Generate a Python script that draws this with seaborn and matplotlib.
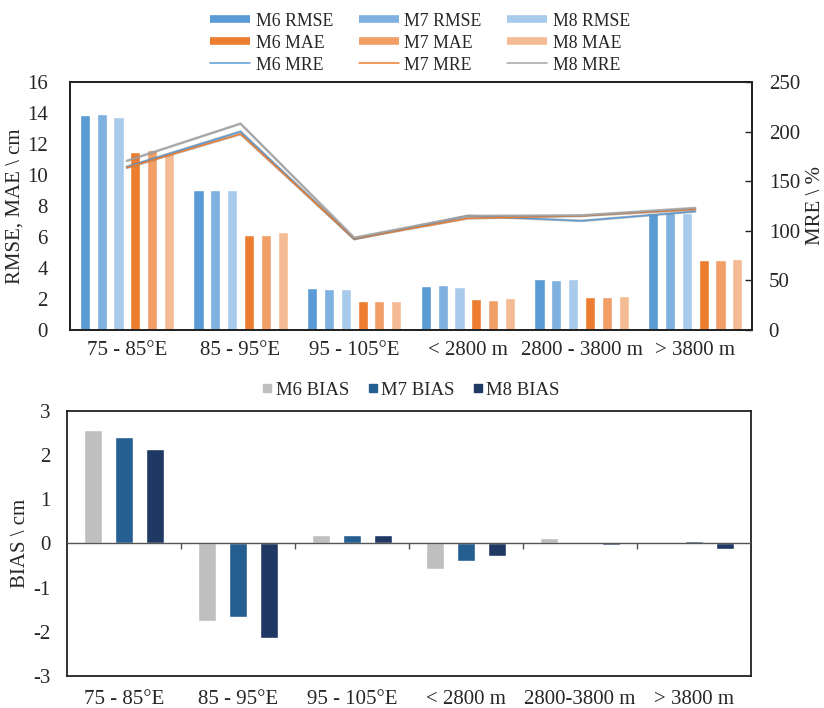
import matplotlib
matplotlib.use("Agg")
import matplotlib.pyplot as plt
import matplotlib.patheffects as pe
from matplotlib.lines import Line2D
import numpy as np
import pandas as pd
import seaborn as sns

# ---- data -------------------------------------------------------------
regions = ["75 - 85°E", "85 - 95°E", "95 - 105°E", "< 2800 m", "2800 - 3800 m", "> 3800 m"]
regions_bias = ["75 - 85°E", "85 - 95°E", "95 - 105°E", "< 2800 m", "2800-3800 m", "> 3800 m"]

m6_rmse = [13.9, 9.05, 2.70, 2.84, 3.27, 7.55]
m7_rmse = [13.95, 9.00, 2.65, 2.88, 3.22, 7.55]
m8_rmse = [13.75, 9.05, 2.65, 2.80, 3.29, 7.55]

m6_mae = [11.5, 6.15, 1.90, 1.98, 2.15, 4.52]
m7_mae = [11.6, 6.10, 1.90, 1.96, 2.15, 4.52]
m8_mae = [11.4, 6.30, 1.90, 2.04, 2.17, 4.55]

m6_mre = [164.5, 200.0, 91.5, 115.0, 110.0, 119.5]
m7_mre = [163.5, 197.5, 92.0, 112.5, 115.0, 121.5]
m8_mre = [170.5, 208.0, 93.0, 115.0, 115.5, 123.0]

m6_bias = [2.56, -1.75, 0.20, -0.57, 0.13, 0.0]
m7_bias = [2.41, -1.67, 0.19, -0.39, 0.0, 0.05]
m8_bias = [2.13, -2.15, 0.20, -0.29, -0.03, -0.13]

bar_series = ["M6 RMSE", "M7 RMSE", "M8 RMSE", "M6 MAE", "M7 MAE", "M8 MAE"]
bar_values = [m6_rmse, m7_rmse, m8_rmse, m6_mae, m7_mae, m8_mae]
bar_colors = ["#5B9BD5", "#7EB0E0", "#A9CBEB", "#ED7D31", "#F19F66", "#F5BB94"]

line_series = ["M6 MRE", "M7 MRE", "M8 MRE"]
line_values = [m6_mre, m7_mre, m8_mre]
line_colors = ["#5B9BD5", "#ED7D31", "#A5A5A5"]

bias_series = ["M6 BIAS", "M7 BIAS", "M8 BIAS"]
bias_values = [m6_bias, m7_bias, m8_bias]
bias_colors = ["#BFBFBF", "#255E91", "#203864"]

# ---- style ------------------------------------------------------------
sns.set_theme(style="white")
plt.rcParams["font.family"] = ["Liberation Serif", "DejaVu Serif"]
plt.rcParams["axes.unicode_minus"] = False
FS = 15

fig = plt.figure(figsize=(8.24, 7.08), dpi=100)
ax1 = fig.add_axes([0.085, 0.5339, 0.8277, 0.3503])
ax3 = fig.add_axes([0.0813, 0.0452, 0.8301, 0.3743])

# ---- top panel: RMSE / MAE bars with MRE lines ------------------------
df_bars = pd.DataFrame(
    [(r, s, v) for s, vals in zip(bar_series, bar_values) for r, v in zip(regions, vals)],
    columns=["region", "series", "value"],
)
sns.barplot(data=df_bars, x="region", y="value", hue="series", order=regions,
            hue_order=bar_series, palette=dict(zip(bar_series, bar_colors)),
            width=0.888, gap=0.4, errorbar=None, saturation=1, legend=False, ax=ax1)
ax1.set_xlim(-0.5, len(regions) - 0.5)
ax1.set_ylim(0, 16)
ax1.set_yticks(np.arange(0, 17, 2))
ax1.set_xlabel("")
ax1.set_ylabel("RMSE, MAE \\ cm", fontsize=FS, labelpad=2)

ax2 = ax1.twinx()
xpos = np.arange(len(regions))
for name, vals, col in zip(line_series, line_values, line_colors):
    sns.lineplot(x=xpos, y=vals, ax=ax2, color=col, linewidth=1.0,
                 path_effects=[pe.Stroke(linewidth=1.9, foreground="#7a7a7a", alpha=0.5), pe.Normal()])
ax2.set_ylim(0, 250)
ax2.set_yticks(np.arange(0, 251, 50))
ax2.set_ylabel("MRE \\ %", fontsize=FS, labelpad=4)
ax2.set_xlim(-0.5, len(regions) - 0.5)

for a in (ax1, ax2):
    for sp in a.spines.values():
        sp.set_visible(True)
        sp.set_color("#222222")
        sp.set_linewidth(1.3)
ax1.tick_params(axis="x", which="major", length=0, labelsize=FS, pad=8)
ax1.set_xticks(np.arange(0.5, len(regions) - 0.5), minor=True)
ax1.tick_params(axis="x", which="minor", direction="in", length=5, width=1, color="#222222")
ax1.tick_params(axis="y", direction="in", length=0, labelsize=FS, pad=16)
ax2.tick_params(axis="y", direction="in", length=5, width=1, color="#222222", labelsize=FS, pad=12)

handles = []
for i in range(3):
    handles.append(Line2D([], [], color=bar_colors[i], lw=5.5, solid_capstyle="butt", label=bar_series[i]))
    handles.append(Line2D([], [], color=bar_colors[i + 3], lw=5.5, solid_capstyle="butt", label=bar_series[i + 3]))
    handles.append(Line2D([], [], color=line_colors[i], lw=1.1, label=line_series[i]))
fig.legend(handles=handles, ncol=3, loc="center", bbox_to_anchor=(0.51, 0.939),
           frameon=False, fontsize=12.8, handlelength=2.25, handletextpad=0.3,
           columnspacing=1.45, labelspacing=0.28)

# ---- bottom panel: BIAS bars ------------------------------------------
df_bias = pd.DataFrame(
    [(r, s, v) for s, vals in zip(bias_series, bias_values) for r, v in zip(regions_bias, vals)],
    columns=["region", "series", "value"],
)
sns.barplot(data=df_bias, x="region", y="value", hue="series", order=regions_bias,
            hue_order=bias_series, palette=dict(zip(bias_series, bias_colors)),
            width=0.813, gap=0.44, errorbar=None, saturation=1, legend=False, ax=ax3)
ax3.set_xlim(-0.5, len(regions_bias) - 0.5)
ax3.set_ylim(-3, 3)
ax3.set_yticks(np.arange(-3, 4, 1))
ax3.set_xlabel("")
ax3.set_ylabel("BIAS \\ cm", fontsize=FS, labelpad=2)
ax3.axhline(0, color="#555555", lw=1.0, zorder=3)
ax3.vlines(np.arange(0.5, len(regions_bias) - 0.5), -0.12, 0, color="#555555", lw=1.0, zorder=3)
for sp in ax3.spines.values():
    sp.set_visible(True)
    sp.set_color("#222222")
    sp.set_linewidth(1.3)
ax3.tick_params(axis="x", length=0, labelsize=FS, pad=10)
ax3.tick_params(axis="y", direction="in", length=5, width=1, color="#222222", labelsize=FS, pad=12)

bias_handles = [Line2D([], [], marker="s", ls="", markersize=6, color=c, label=n)
                for n, c in zip(bias_series, bias_colors)]
fig.legend(handles=bias_handles, ncol=3, loc="center", bbox_to_anchor=(0.499, 0.449),
           frameon=False, fontsize=13.5, handlelength=0.5, handletextpad=0.2,
           columnspacing=1.0)

fig.savefig("out.png", dpi=100)
